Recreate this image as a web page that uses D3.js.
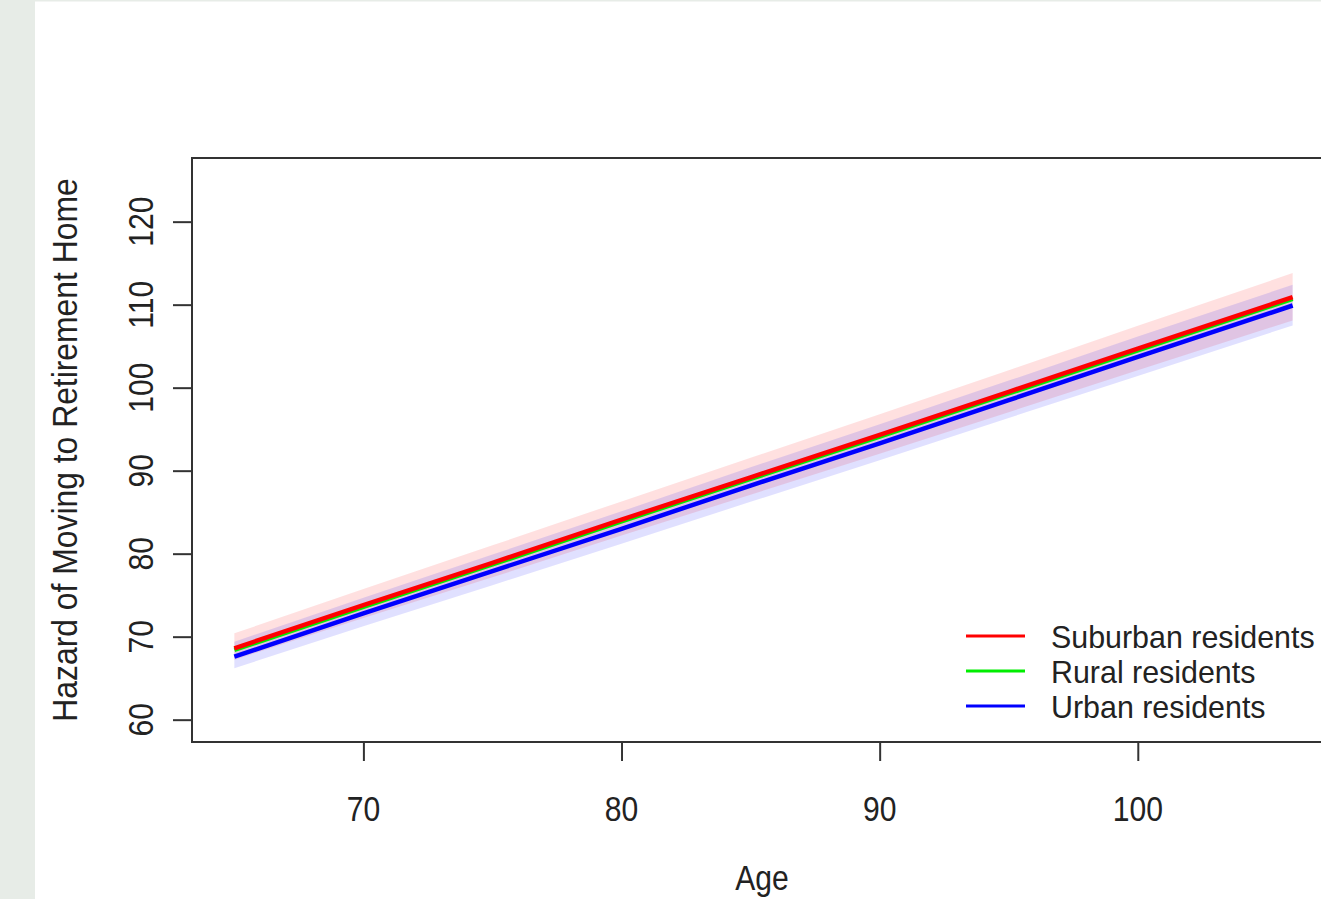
<!DOCTYPE html>
<html>
<head>
<meta charset="utf-8">
<script src="https://cdn.jsdelivr.net/npm/d3@7"></script>
<style>
  html, body { margin: 0; padding: 0; background: #fff; }
  svg { display: block; }
  text { font-family: "Liberation Sans", Arial, sans-serif; fill: #222; }
</style>
</head>
<body>
<div id="chart"></div>
<script>
var ages = [65, 70, 75, 80, 85, 90, 95, 100, 106];

var suburban   = [68.6, 73.8, 78.9, 84.1, 89.2, 94.3, 99.5, 104.7, 110.9];
var suburbanHi = [70.4, 75.75, 81.0, 86.3, 91.55, 96.8, 102.1, 107.45, 113.8];
var suburbanLo = [67.2, 72.25, 77.15, 82.2, 87.1, 92.05, 97.05, 102.1, 108.1];

var rural = [68.4, 73.6, 78.7, 83.9, 89.0, 94.1, 99.3, 104.5, 110.7];

var urban   = [67.6, 72.8, 77.9, 83.0, 88.2, 93.3, 98.5, 103.7, 109.9];
var urbanHi = [69.4, 74.7, 79.9, 85.1, 90.4, 95.6, 100.85, 106.15, 112.4];
var urbanLo = [66.2, 71.25, 76.2, 81.2, 86.25, 91.25, 96.35, 101.4, 107.5];

var xTicks = [70, 80, 90, 100];
var yTicks = [60, 70, 80, 90, 100, 110, 120];

var legendNames = ['Suburban residents', 'Rural residents', 'Urban residents'];
var legendColors = ['#ff0000', '#00ee00', '#0000ff'];

var W = 1321, H = 899;
var box = { left: 192, top: 158, right: 1335, bottom: 742 };
var fs = 35, sx = 0.86; // glyphs are taller than they are wide in the original

var svg = d3.select('#chart').append('svg').attr('width', W).attr('height', H);

// page background bits
svg.append('rect').attr('x', 0).attr('y', 0).attr('width', 35).attr('height', H).attr('fill', '#e7ece7');
svg.append('rect').attr('x', 35).attr('y', 0).attr('width', W - 35).attr('height', 1.5).attr('fill', '#e7ece7');

var x = d3.scaleLinear().domain([63.36, 107.64]).range([box.left, box.right]);
var y = d3.scaleLinear().domain([57.31, 127.67]).range([box.bottom, box.top]);

function pts(vals) {
  return ages.map(function (a, i) { return { age: a, v: vals[i] }; });
}
function bandPts(lo, hi) {
  return ages.map(function (a, i) { return { age: a, lo: lo[i], hi: hi[i] }; });
}

var area = d3.area()
  .x(function (d) { return x(d.age); })
  .y0(function (d) { return y(d.lo); })
  .y1(function (d) { return y(d.hi); });

var line = d3.line()
  .x(function (d) { return x(d.age); })
  .y(function (d) { return y(d.v); });

var plot = svg.append('g');

plot.append('path').datum(bandPts(suburbanLo, suburbanHi))
  .attr('d', area).attr('fill', 'rgba(255,0,0,0.12)');
plot.append('path').datum(bandPts(urbanLo, urbanHi))
  .attr('d', area).attr('fill', 'rgba(0,0,255,0.12)');

// rural mostly hides under the other two
[[rural, '#00ee00'], [urban, '#0000ff'], [suburban, '#ff0000']].forEach(function (s) {
  plot.append('path').datum(pts(s[0]))
    .attr('d', line)
    .attr('fill', 'none')
    .attr('stroke', s[1])
    .attr('stroke-width', 4.5)
    .attr('stroke-linejoin', 'round');
});

// box
svg.append('rect')
  .attr('x', box.left).attr('y', box.top)
  .attr('width', box.right - box.left).attr('height', box.bottom - box.top)
  .attr('fill', 'none').attr('stroke', '#333').attr('stroke-width', 2);

// axes (ticks only, labels drawn below)
var xAxis = svg.append('g').attr('transform', 'translate(0,' + box.bottom + ')')
  .call(d3.axisBottom(x).tickValues(xTicks).tickSize(19).tickFormat(''));
var yAxis = svg.append('g').attr('transform', 'translate(' + box.left + ',0)')
  .call(d3.axisLeft(y).tickValues(yTicks).tickSize(19).tickFormat(''));
[xAxis, yAxis].forEach(function (g) {
  g.select('.domain').remove();
  g.selectAll('.tick line').attr('stroke', '#333').attr('stroke-width', 2);
});

svg.append('g').selectAll('text').data(xTicks).enter().append('text')
  .attr('transform', function (d) { return 'translate(' + x(d) + ',821) scale(' + sx + ',1)'; })
  .attr('text-anchor', 'middle')
  .style('font-size', fs + 'px')
  .text(function (d) { return d; });

svg.append('g').selectAll('text').data(yTicks).enter().append('text')
  .attr('transform', function (d) { return 'translate(152.5,' + y(d) + ') rotate(-90) scale(' + sx + ',1)'; })
  .attr('text-anchor', 'middle')
  .style('font-size', fs + 'px')
  .text(function (d) { return d; });

// titles
svg.append('text')
  .attr('transform', 'translate(762,890) scale(' + sx + ',1)')
  .attr('text-anchor', 'middle')
  .style('font-size', fs + 'px')
  .text('Age');

svg.append('text')
  .attr('transform', 'translate(77,450) rotate(-90) scale(0.91,1)')
  .attr('text-anchor', 'middle')
  .style('font-size', fs + 'px')
  .text('Hazard of Moving to Retirement Home');

// legend
var legY = d3.scalePoint().domain(legendNames).range([636, 706]);
var leg = svg.append('g').selectAll('g').data(legendNames).enter().append('g');
leg.append('line')
  .attr('x1', 966).attr('x2', 1025)
  .attr('y1', function (d) { return legY(d); })
  .attr('y2', function (d) { return legY(d); })
  .attr('stroke', function (d, i) { return legendColors[i]; })
  .attr('stroke-width', 3);
leg.append('text')
  .attr('transform', function (d) { return 'translate(1051,' + (legY(d) + 11.5) + ') scale(0.95,1)'; })
  .style('font-size', '32px')
  .text(function (d) { return d; });
</script>
</body>
</html>
